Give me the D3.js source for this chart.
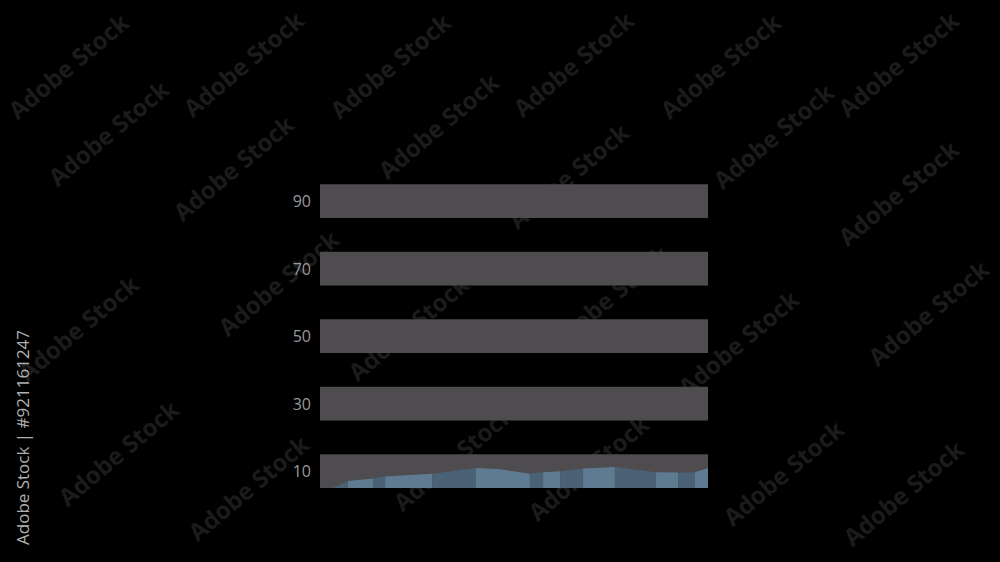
<!DOCTYPE html>
<html><head><meta charset="utf-8">
<script src="https://cdn.jsdelivr.net/npm/d3@7"></script>
<style>html,body{margin:0;padding:0;background:#000;}svg{display:block;}</style>
</head><body>
<svg id="c" width="1000" height="562"></svg>
<script>
// ---- data ----
const bandValues = [90, 70, 50, 30, 10];      // band centres / tick labels
const bandHalfWidth = 5;                      // each band spans value ± 5
// area top line inside the "10" band (x in % of width, value)
const areaX = [3.3, 7.2, 13.7, 16.8, 28.9, 40.2, 46.4, 54.1, 57.5, 61.9, 67.8, 76.0, 86.6, 92.3, 96.6, 100];
const areaV = [5.0, 7.1, 7.8, 8.4, 9.2, 10.9, 10.6, 9.2, 9.7, 10.0, 10.8, 11.2, 9.7, 9.6, 9.7, 10.9];
// column boundaries (x in %) and shade of each column
const colEdges = [3.3, 7.2, 13.7, 16.8, 28.9, 40.2, 54.1, 57.5, 61.9, 67.8, 76.0, 86.6, 92.3, 96.6, 100];
const colShade = ["dark","light","dark","light","dark","light","dark","light","dark","light","dark","light","dark","light"];

const svg = d3.select("#c");
const x = d3.scaleLinear().domain([0, 100]).range([320, 708]);
const y = d3.scaleLinear().domain([0, 100]).range([504.9, 167.4]);

// faint watermarks
const wm = [[70,68],[245,66],[392,68],[575,66],[722,68],[900,66],[110,135],[440,128],[235,170],[570,178],[775,138],[900,195],[280,285],[80,330],[410,330],[610,300],[740,345],[930,315],[120,455],[455,460],[590,470],[785,475],[250,490],[905,495]];
svg.append("g").selectAll("text").data(wm).join("text")
  .attr("transform", d => `translate(${d[0]},${d[1]}) rotate(-40)`)
  .attr("text-anchor","middle").attr("dominant-baseline","middle")
  .attr("font-family","Open Sans, sans-serif").attr("font-weight","700")
  .attr("font-size",24).attr("fill","#1b1b1b").text("Adobe Stock");

// bands
svg.append("g").selectAll("rect").data(bandValues).join("rect")
  .attr("x", x(0)).attr("width", x(100) - x(0))
  .attr("y", d => y(d + bandHalfWidth))
  .attr("height", d => y(d - bandHalfWidth) - y(d + bandHalfWidth))
  .attr("fill", "#4e4c4f");

// labels
svg.append("g").selectAll("text").data(bandValues).join("text")
  .attr("x", 311).attr("y", d => y(d))
  .attr("text-anchor","end").attr("dominant-baseline","central")
  .attr("font-family","Open Sans, sans-serif").attr("font-size",16)
  .attr("fill","#9a9a9a").text(d => d);

// area in bottom band
const pts = areaX.map((v,i) => [v, areaV[i]]);
const base = bandValues[bandValues.length-1] - bandHalfWidth;
const area = d3.area().x(d => x(d[0])).y0(y(base)).y1(d => y(d[1]));
svg.append("clipPath").attr("id","ac").append("path").attr("d", area(pts));
const cols = colShade.map((s,i) => ({x0: colEdges[i], x1: colEdges[i+1], s}));
svg.append("g").attr("clip-path","url(#ac)").selectAll("rect").data(cols).join("rect")
  .attr("x", d => x(d.x0)).attr("width", d => x(d.x1) - x(d.x0))
  .attr("y", y(base + 10)).attr("height", y(base) - y(base + 10))
  .attr("fill", d => d.s === "light" ? "#5f7b92" : "#4b6175");

// vertical credit text
svg.append("text").attr("transform","translate(29,545) rotate(-90)")
  .attr("font-family","Open Sans, sans-serif").attr("font-size",17)
  .attr("fill","#b0b0b0").text("Adobe Stock | #921161247");
</script>
</body></html>
